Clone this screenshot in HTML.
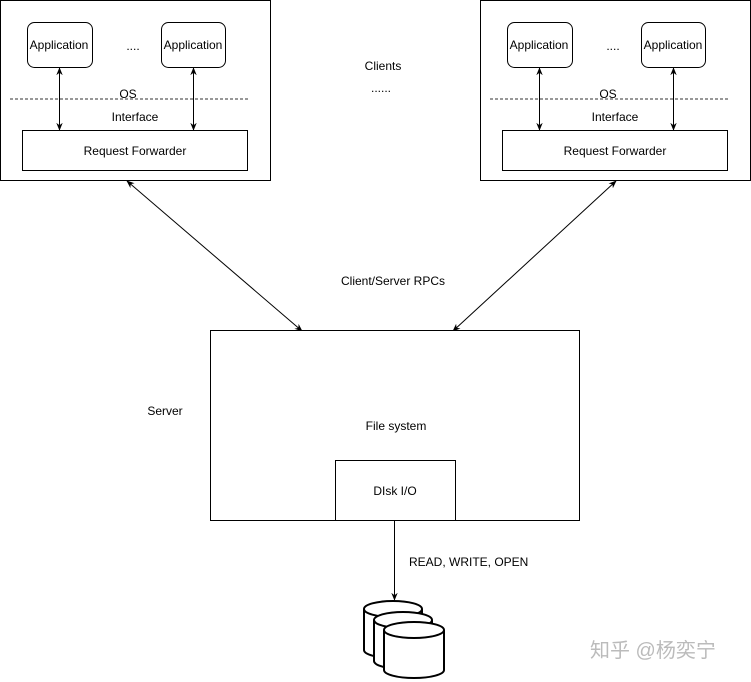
<!DOCTYPE html>
<html><head><style>body{margin:0;background:#fff}svg{display:block}text{font-family:"Liberation Sans",Arial,sans-serif;font-size:12px;fill:#000}</style></head><body>
<svg width="751" height="682" viewBox="0 0 751 682" xmlns="http://www.w3.org/2000/svg">
<defs><marker id="a" viewBox="0 0 10 10" refX="9" refY="5" markerWidth="8" markerHeight="8" orient="auto-start-reverse"><path d="M0,1 L10,5 L0,9 L3,5 z" fill="#000"/></marker></defs>
<g id="c">
<rect x="0.5" y="0.5" width="270" height="180" fill="#fff" stroke="#000"/>
<rect x="27.5" y="22.5" width="65" height="45" rx="7" fill="#fff" stroke="#000"/>
<rect x="161.5" y="22.5" width="64" height="45" rx="7" fill="#fff" stroke="#000"/>
<text x="59" y="49" text-anchor="middle" font-size="11">Application</text>
<text x="193" y="49" text-anchor="middle" font-size="11">Application</text>
<text x="133" y="50" text-anchor="middle" font-size="11">....</text>
<line x1="10" y1="99" x2="248" y2="99" stroke="#777" stroke-width="1.5" stroke-dasharray="3,2"/>
<text x="128" y="98" text-anchor="middle">OS</text>
<text x="135" y="121" text-anchor="middle" font-size="11">Interface</text>
<rect x="22.5" y="130.5" width="225" height="40" fill="#fff" stroke="#000"/>
<text x="135" y="155" text-anchor="middle" font-size="11">Request Forwarder</text>
<line x1="59.5" y1="68" x2="59.5" y2="130" stroke="#000" marker-start="url(#a)" marker-end="url(#a)"/>
<line x1="193.5" y1="68" x2="193.5" y2="130" stroke="#000" marker-start="url(#a)" marker-end="url(#a)"/>
</g>
<use href="#c" x="480"/>
<text x="383" y="70" text-anchor="middle">Clients</text>
<text x="381" y="92" text-anchor="middle">......</text>
<line x1="127" y1="181" x2="302" y2="331" stroke="#000" marker-start="url(#a)" marker-end="url(#a)"/>
<line x1="616" y1="181" x2="453" y2="331" stroke="#000" marker-start="url(#a)" marker-end="url(#a)"/>
<text x="393" y="285" text-anchor="middle">Client/Server RPCs</text>
<rect x="210.5" y="330.5" width="369" height="190" fill="#fff" stroke="#000"/>
<text x="165" y="415" text-anchor="middle">Server</text>
<text x="396" y="430" text-anchor="middle">File system</text>
<rect x="335.5" y="460.5" width="120" height="60" fill="#fff" stroke="#000"/>
<text x="395" y="495" text-anchor="middle">DIsk I/O</text>
<line x1="394.5" y1="520" x2="394.5" y2="600" stroke="#000" marker-end="url(#a)"/>
<text x="409" y="566">READ, WRITE, OPEN</text>
<g fill="#fff" stroke="#000" stroke-width="2">
<path d="M364,609 L364,650 A29,8 0 0 0 422,650 L422,609"/><ellipse cx="393" cy="609" rx="29" ry="8"/>
<path d="M374,620 L374,661 A29,8 0 0 0 432,661 L432,620"/><ellipse cx="403" cy="620" rx="29" ry="8"/>
<path d="M384,630 L384,670 A30,8 0 0 0 444,670 L444,630"/><ellipse cx="414" cy="630" rx="30" ry="8"/>
</g>
<text x="590" y="657" style="font-family:'Liberation Sans','Noto Sans CJK SC',sans-serif;font-size:20px;fill:#bbb">知乎 @杨奕宁</text>
</svg>
</body></html>
